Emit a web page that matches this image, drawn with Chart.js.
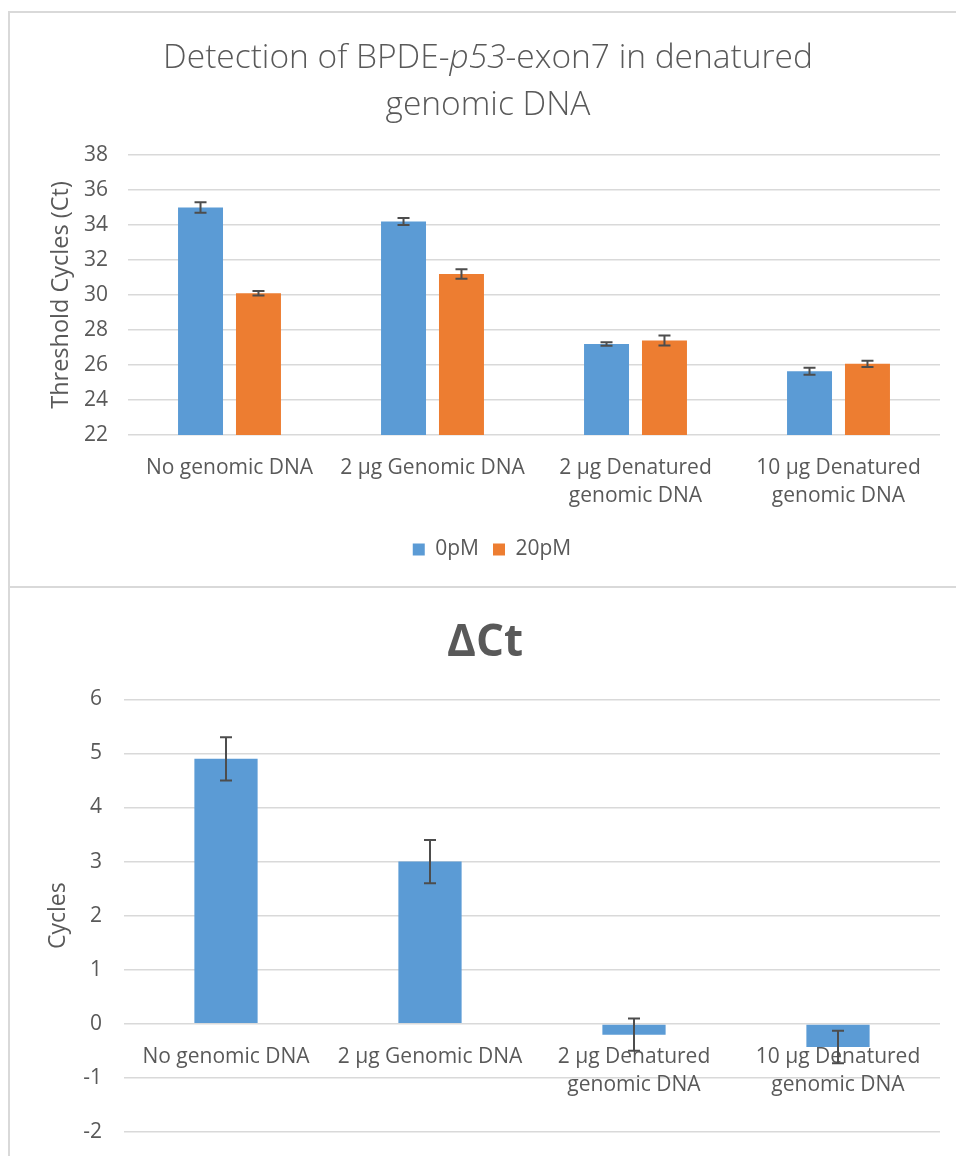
<!DOCTYPE html>
<html>
<head>
<meta charset="utf-8">
<script src="https://cdn.jsdelivr.net/npm/chart.js@4.4.1/dist/chart.umd.min.js"></script>
<style>
  html, body { margin: 0; padding: 0; background: #fff; width: 956px; height: 1156px; overflow: hidden; }
  .box { position: absolute; left: 8px; width: 956px; border: 2px solid #d9d9d9; background: #fff; }
  #box1 { top: 11px; height: 573px; }
  #box2 { top: 588px; height: 598px; border-top: none; }
  .box canvas { position: absolute; left: 0; top: 0; }
  #title1 {
    position: absolute; left: 0; top: 19px; width: 956px; text-align: center;
    font-family: 'Open Sans', sans-serif; font-weight: 300; font-size: 33.5px; line-height: 47px;
    color: #595959;
  }
</style>
</head>
<body>
<div class="box" id="box1">
  <canvas id="ctChart" width="956" height="573"></canvas>
  <div id="title1">Detection of BPDE-<i>p53</i>-exon7 in denatured<br>genomic DNA</div>
</div>
<div class="box" id="box2">
  <canvas id="deltaChart" width="956" height="598"></canvas>
</div>
<script>
// Sample groups on the x axis
const categories = [
  'No genomic DNA',
  '2 µg Genomic DNA',
  ['2 µg Denatured', 'genomic DNA'],
  ['10 µg Denatured', 'genomic DNA']
];

// Threshold cycles (Ct) per target concentration, with standard deviations
const ct0pM = [35.0, 34.2, 27.2, 25.65];
const ct0pMErr = [0.3, 0.2, 0.1, 0.2];
const ct20pM = [30.1, 31.2, 27.4, 26.07];
const ct20pMErr = [0.13, 0.27, 0.28, 0.18];

// ΔCt = Ct(0pM) - Ct(20pM), with standard deviations
const deltaCt = [4.9, 3.0, -0.2, -0.43];
const deltaCtErr = [0.4, 0.4, 0.3, 0.3];

// Axis ranges
const ctTicks = { min: 22, max: 38, step: 2 };
const deltaTicks = { min: -2, max: 6, step: 1 };

const BLUE = '#5B9BD5';
const ORANGE = '#ED7D31';
const TEXT = '#595959';
const GRID = '#d9d9d9';

Chart.defaults.font.family = "'Open Sans', sans-serif";
Chart.defaults.color = TEXT;
Chart.defaults.animation = false;

// Draws ± error bars with caps on top of each bar
const errorBars = {
  id: 'errorBars',
  afterDatasetsDraw(chart, args, opts) {
    const ctx = chart.ctx;
    const yScale = chart.scales.y;
    const cap = opts.capWidth / 2;
    chart.data.datasets.forEach((ds, di) => {
      const meta = chart.getDatasetMeta(di);
      if (!ds.errors || meta.hidden) return;
      meta.data.forEach((bar, i) => {
        const v = ds.data[i];
        const e = ds.errors[i];
        const yTop = yScale.getPixelForValue(v + e);
        const yBot = yScale.getPixelForValue(v - e);
        ctx.save();
        ctx.strokeStyle = opts.color;
        ctx.lineWidth = opts.lineWidth;
        ctx.beginPath();
        ctx.moveTo(bar.x, yTop); ctx.lineTo(bar.x, yBot);
        ctx.moveTo(bar.x - cap, yTop); ctx.lineTo(bar.x + cap, yTop);
        ctx.moveTo(bar.x - cap, yBot); ctx.lineTo(bar.x + cap, yBot);
        ctx.stroke();
        ctx.restore();
      });
    });
  }
};

const tickFont = { size: 21, lineHeight: 28 / 21 };

// Threshold cycles chart
new Chart(document.getElementById('ctChart'), {
  type: 'bar',
  data: {
    labels: categories,
    datasets: [
      { label: '0pM', data: ct0pM, errors: ct0pMErr, backgroundColor: BLUE },
      { label: '20pM', data: ct20pM, errors: ct20pMErr, backgroundColor: ORANGE }
    ]
  },
  options: {
    responsive: false,
    devicePixelRatio: 1,
    categoryPercentage: 0.571,
    barPercentage: 0.776,
    layout: { padding: { top: 142, right: 26, bottom: 16, left: 34 } },
    plugins: {
      title: { display: false },
      tooltip: { enabled: false },
      legend: {
        position: 'bottom',
        labels: { boxWidth: 12, boxHeight: 12, padding: 14, font: { size: 21 }, color: TEXT }
      },
      errorBars: { color: '#4d4d4d', lineWidth: 2, capWidth: 12 }
    },
    scales: {
      x: {
        grid: { display: false },
        border: { display: false },
        ticks: { font: tickFont, padding: 11, maxRotation: 0, autoSkip: false, color: TEXT },
        afterFit(scale) { scale.height = 90; }
      },
      y: {
        min: ctTicks.min,
        max: ctTicks.max,
        ticks: { stepSize: ctTicks.step, font: { size: 21 }, padding: 20, color: TEXT },
        grid: { color: GRID, lineWidth: 1.6, drawTicks: false },
        border: { display: false },
        title: { display: true, text: 'Threshold Cycles (Ct)', font: { size: 23.5 }, color: TEXT, padding: { top: 3, bottom: 0 } },
        afterFit(scale) { scale.width = 84; }
      }
    }
  },
  plugins: [errorBars]
});

// ΔCt chart
new Chart(document.getElementById('deltaChart'), {
  type: 'bar',
  data: {
    labels: categories,
    datasets: [
      { label: 'ΔCt', data: deltaCt, errors: deltaCtErr, backgroundColor: BLUE }
    ]
  },
  options: {
    responsive: false,
    devicePixelRatio: 1,
    categoryPercentage: 1,
    barPercentage: 0.31,
    layout: { padding: { top: 0, right: 26, bottom: 54, left: 20 } },
    plugins: {
      title: {
        display: true, text: 'ΔCt', color: TEXT,
        font: { size: 44, weight: 'bold' },
        padding: { top: 29.5, bottom: 29 }
      },
      legend: { display: false },
      tooltip: { enabled: false },
      errorBars: { color: '#4d4d4d', lineWidth: 2, capWidth: 12 }
    },
    scales: {
      x: {
        position: { y: 0 },
        z: 1,
        grid: { display: false },
        border: { display: false },
        ticks: { font: tickFont, padding: 11, maxRotation: 0, autoSkip: false, color: TEXT },
        afterFit(scale) { scale.height = 0; }
      },
      y: {
        min: deltaTicks.min,
        max: deltaTicks.max,
        ticks: { stepSize: deltaTicks.step, font: { size: 21 }, padding: 22, color: TEXT },
        grid: { color: GRID, lineWidth: 1.6, drawTicks: false },
        border: { display: false },
        title: { display: true, text: 'Cycles', font: { size: 23 }, color: TEXT, padding: { top: 15, bottom: 0 } },
        afterFit(scale) { scale.width = 94; }
      }
    }
  },
  plugins: [errorBars]
});
</script>
</body>
</html>
